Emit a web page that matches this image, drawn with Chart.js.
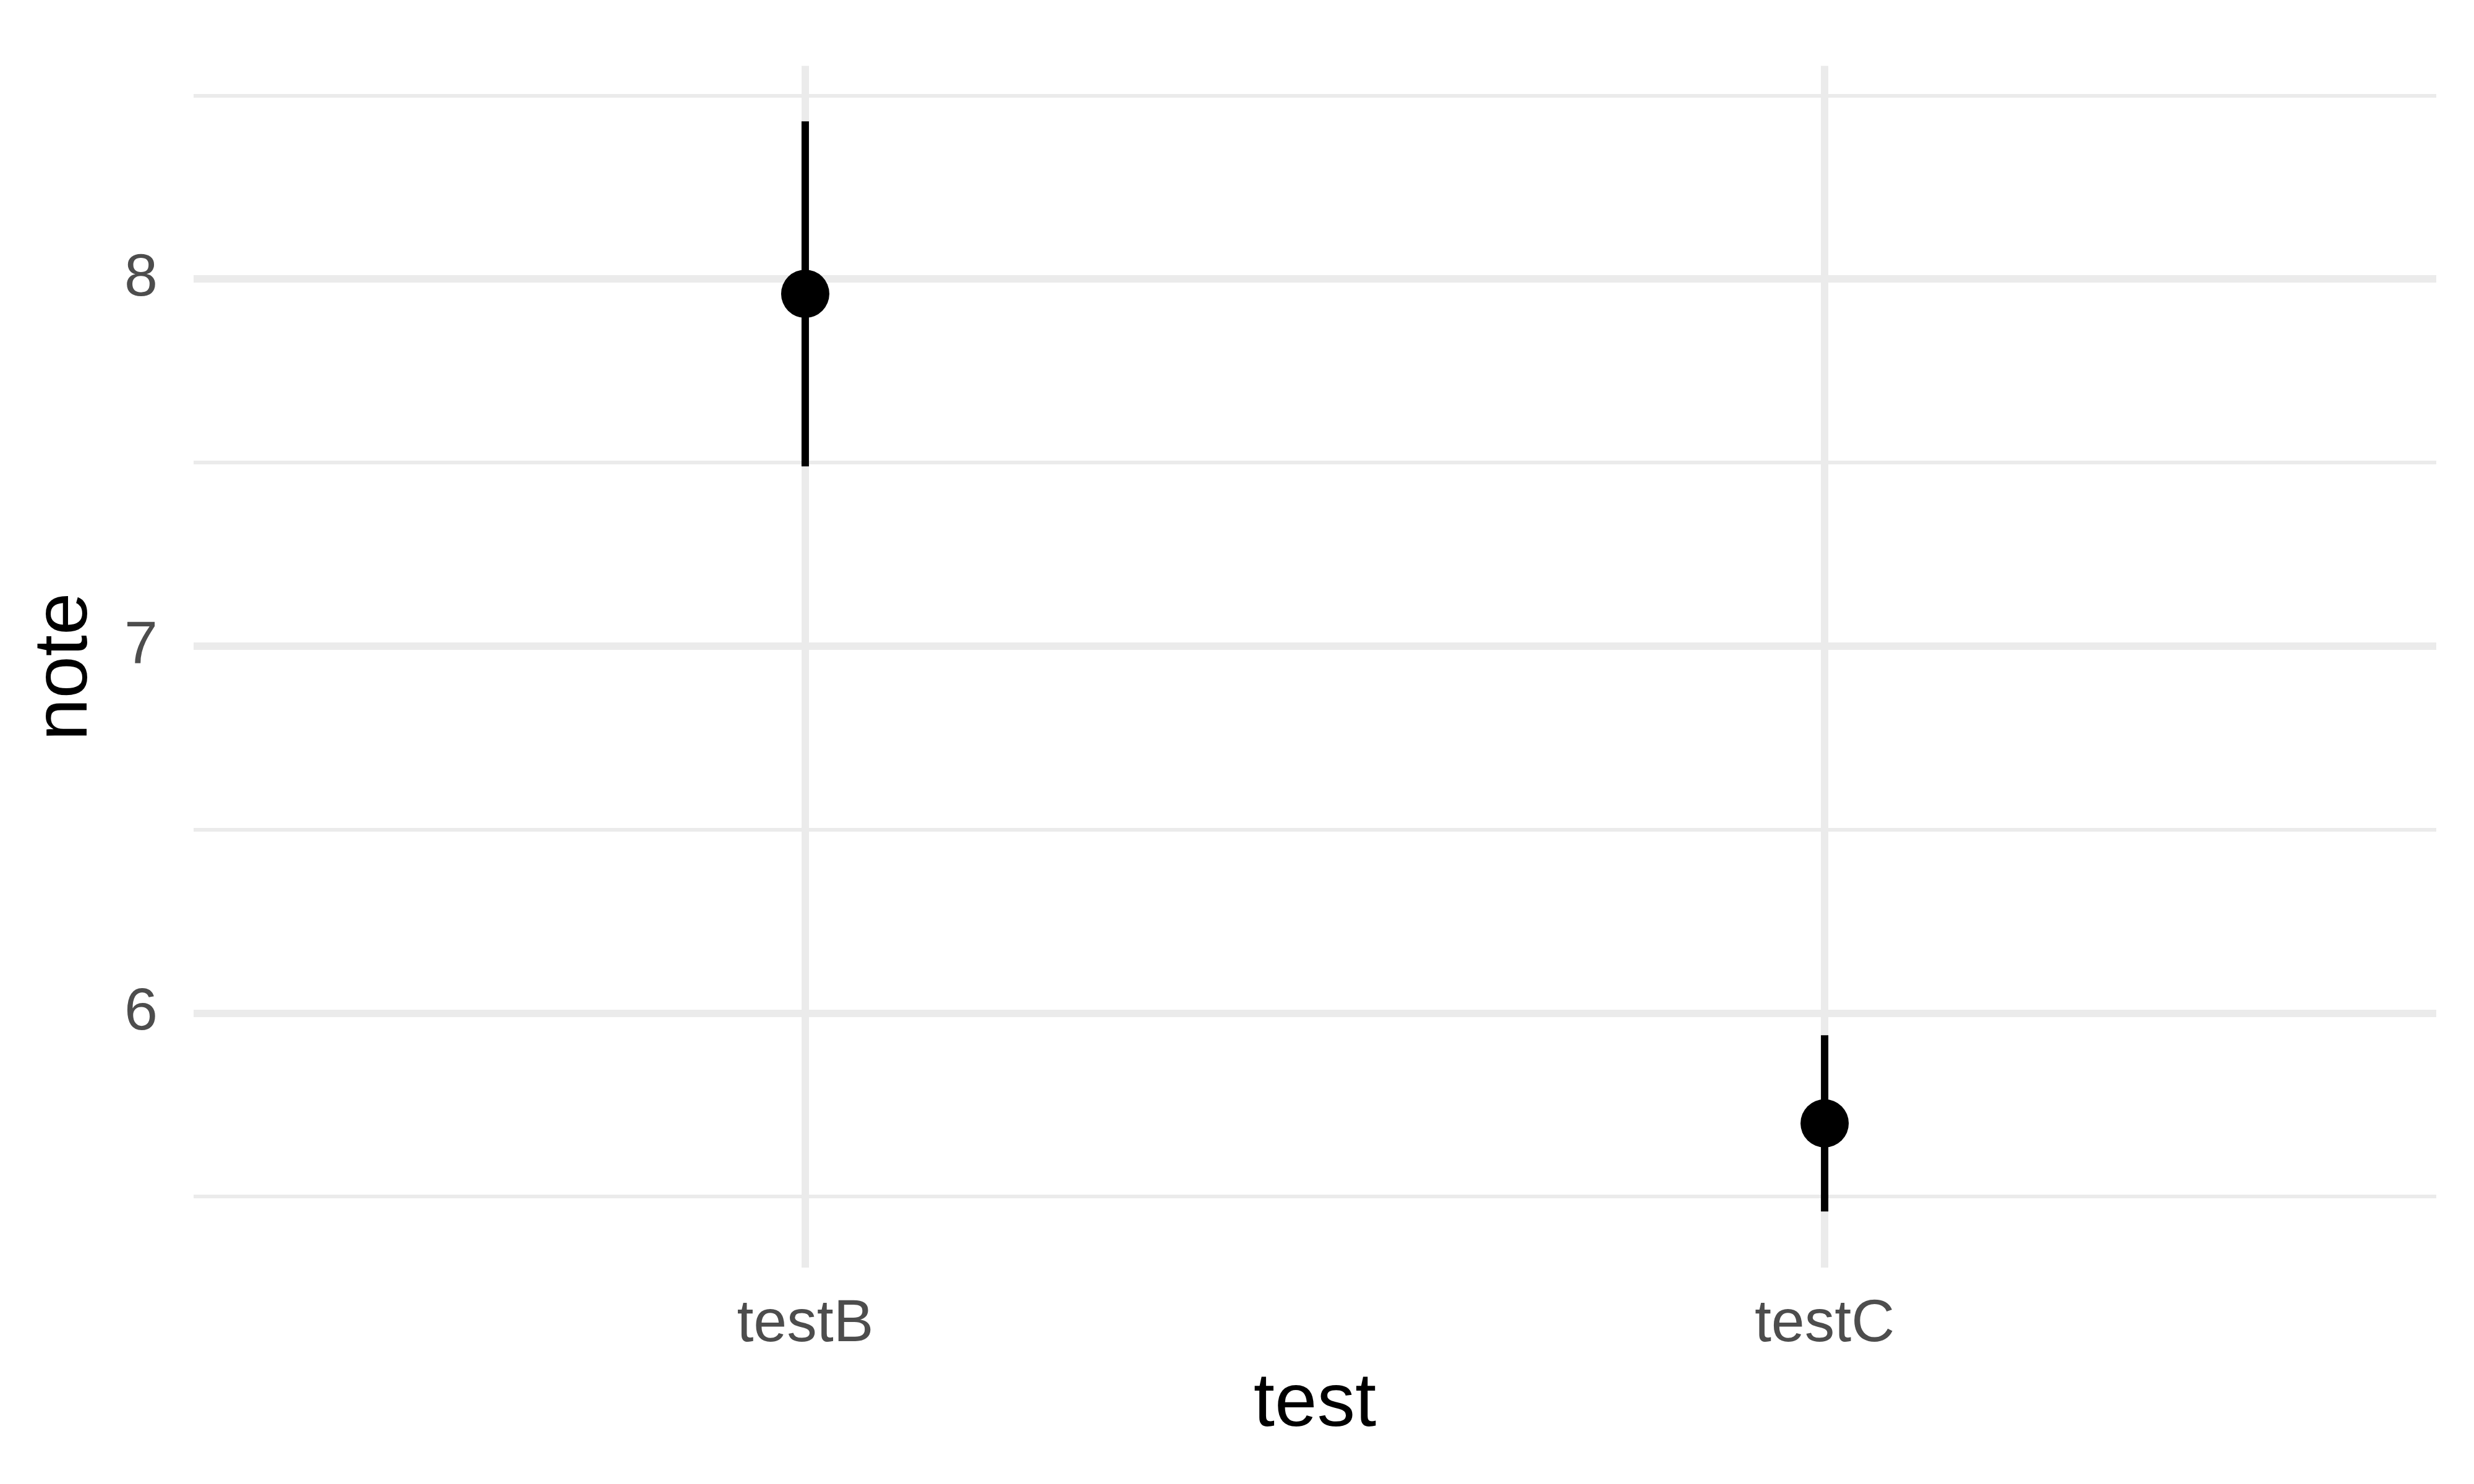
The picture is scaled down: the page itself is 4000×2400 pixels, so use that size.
<!DOCTYPE html>
<html>
<head>
<meta charset="utf-8">
<script src="https://cdn.jsdelivr.net/npm/chart.js@4/dist/chart.umd.min.js"></script>
<style>
html,body{margin:0;padding:0;background:#fff;}
canvas{display:block;}
</style>
</head>
<body>
<canvas id="c" width="4000" height="2400" style="width:4000px;height:2400px"></canvas>
<script>
// ---- data ----
const categories = ['testB', 'testC'];
const means = [7.96, 5.70];
const lower = [7.49, 5.46];
const upper = [8.43, 5.94];
const yTicks = [5.5, 6, 6.5, 7, 7.5, 8, 8.5];
const xTitle = 'test';
const yTitle = 'note';

const GRID = '#EBEBEB';
const FONT = "'Liberation Sans', Arial, sans-serif";

const errorSets = categories.map((c, i) => ({
  type: 'line',
  label: c + ' range',
  data: [{x: i + 1, y: lower[i]}, {x: i + 1, y: upper[i]}],
  borderColor: '#000',
  borderWidth: 12,
  borderCapStyle: 'butt',
  pointRadius: 0,
  fill: false,
  order: 2
}));

const pointSet = {
  type: 'scatter',
  label: 'mean',
  data: categories.map((c, i) => ({x: i + 1, y: means[i]})),
  backgroundColor: '#000',
  borderWidth: 0,
  pointRadius: 39,
  pointHoverRadius: 39,
  order: 0
};

new Chart(document.getElementById('c'), {
  type: 'scatter',
  data: { datasets: [pointSet, ...errorSets] },
  options: {
    responsive: false,
    devicePixelRatio: 1,
    animation: false,
    layout: { padding: { top: 62, right: 61, left: 0, bottom: 0 } },
    plugins: { legend: { display: false }, tooltip: { enabled: false } },
    scales: {
      x: {
        type: 'linear',
        min: 0.4,
        max: 2.6,
        afterBuildTicks: s => { s.ticks = categories.map((c, i) => ({ value: i + 1 })); },
        afterFit: s => { s.height = 350; },
        ticks: {
          callback: v => categories[v - 1] ?? '',
          color: '#4D4D4D',
          font: { family: FONT, size: 97, lineHeight: 1 },
          padding: 44,
          maxRotation: 0,
          autoSkip: false
        },
        grid: { color: GRID, lineWidth: 12, drawTicks: false },
        border: { display: false },
        title: {
          display: true, text: xTitle, color: '#000',
          font: { family: FONT, size: 123, lineHeight: 1 },
          padding: { top: 0, bottom: 66 }
        }
      },
      y: {
        type: 'linear',
        min: 5.307,
        max: 8.581,
        afterBuildTicks: s => { s.ticks = yTicks.map(v => ({ value: v })); },
        afterFit: s => { s.width = 313; },
        ticks: {
          callback: v => Number.isInteger(v) ? String(v) : '',
          color: '#4D4D4D',
          font: { family: FONT, size: 97, lineHeight: 1 },
          padding: 58,
          autoSkip: false
        },
        grid: {
          color: GRID,
          lineWidth: ctx => Number.isInteger(ctx.tick.value) ? 12 : 6,
          drawTicks: false
        },
        border: { display: false },
        title: {
          display: true, text: yTitle, color: '#000',
          font: { family: FONT, size: 123, lineHeight: 1 },
          padding: { top: 45, bottom: 0 }
        }
      }
    }
  }
});
</script>
</body>
</html>
